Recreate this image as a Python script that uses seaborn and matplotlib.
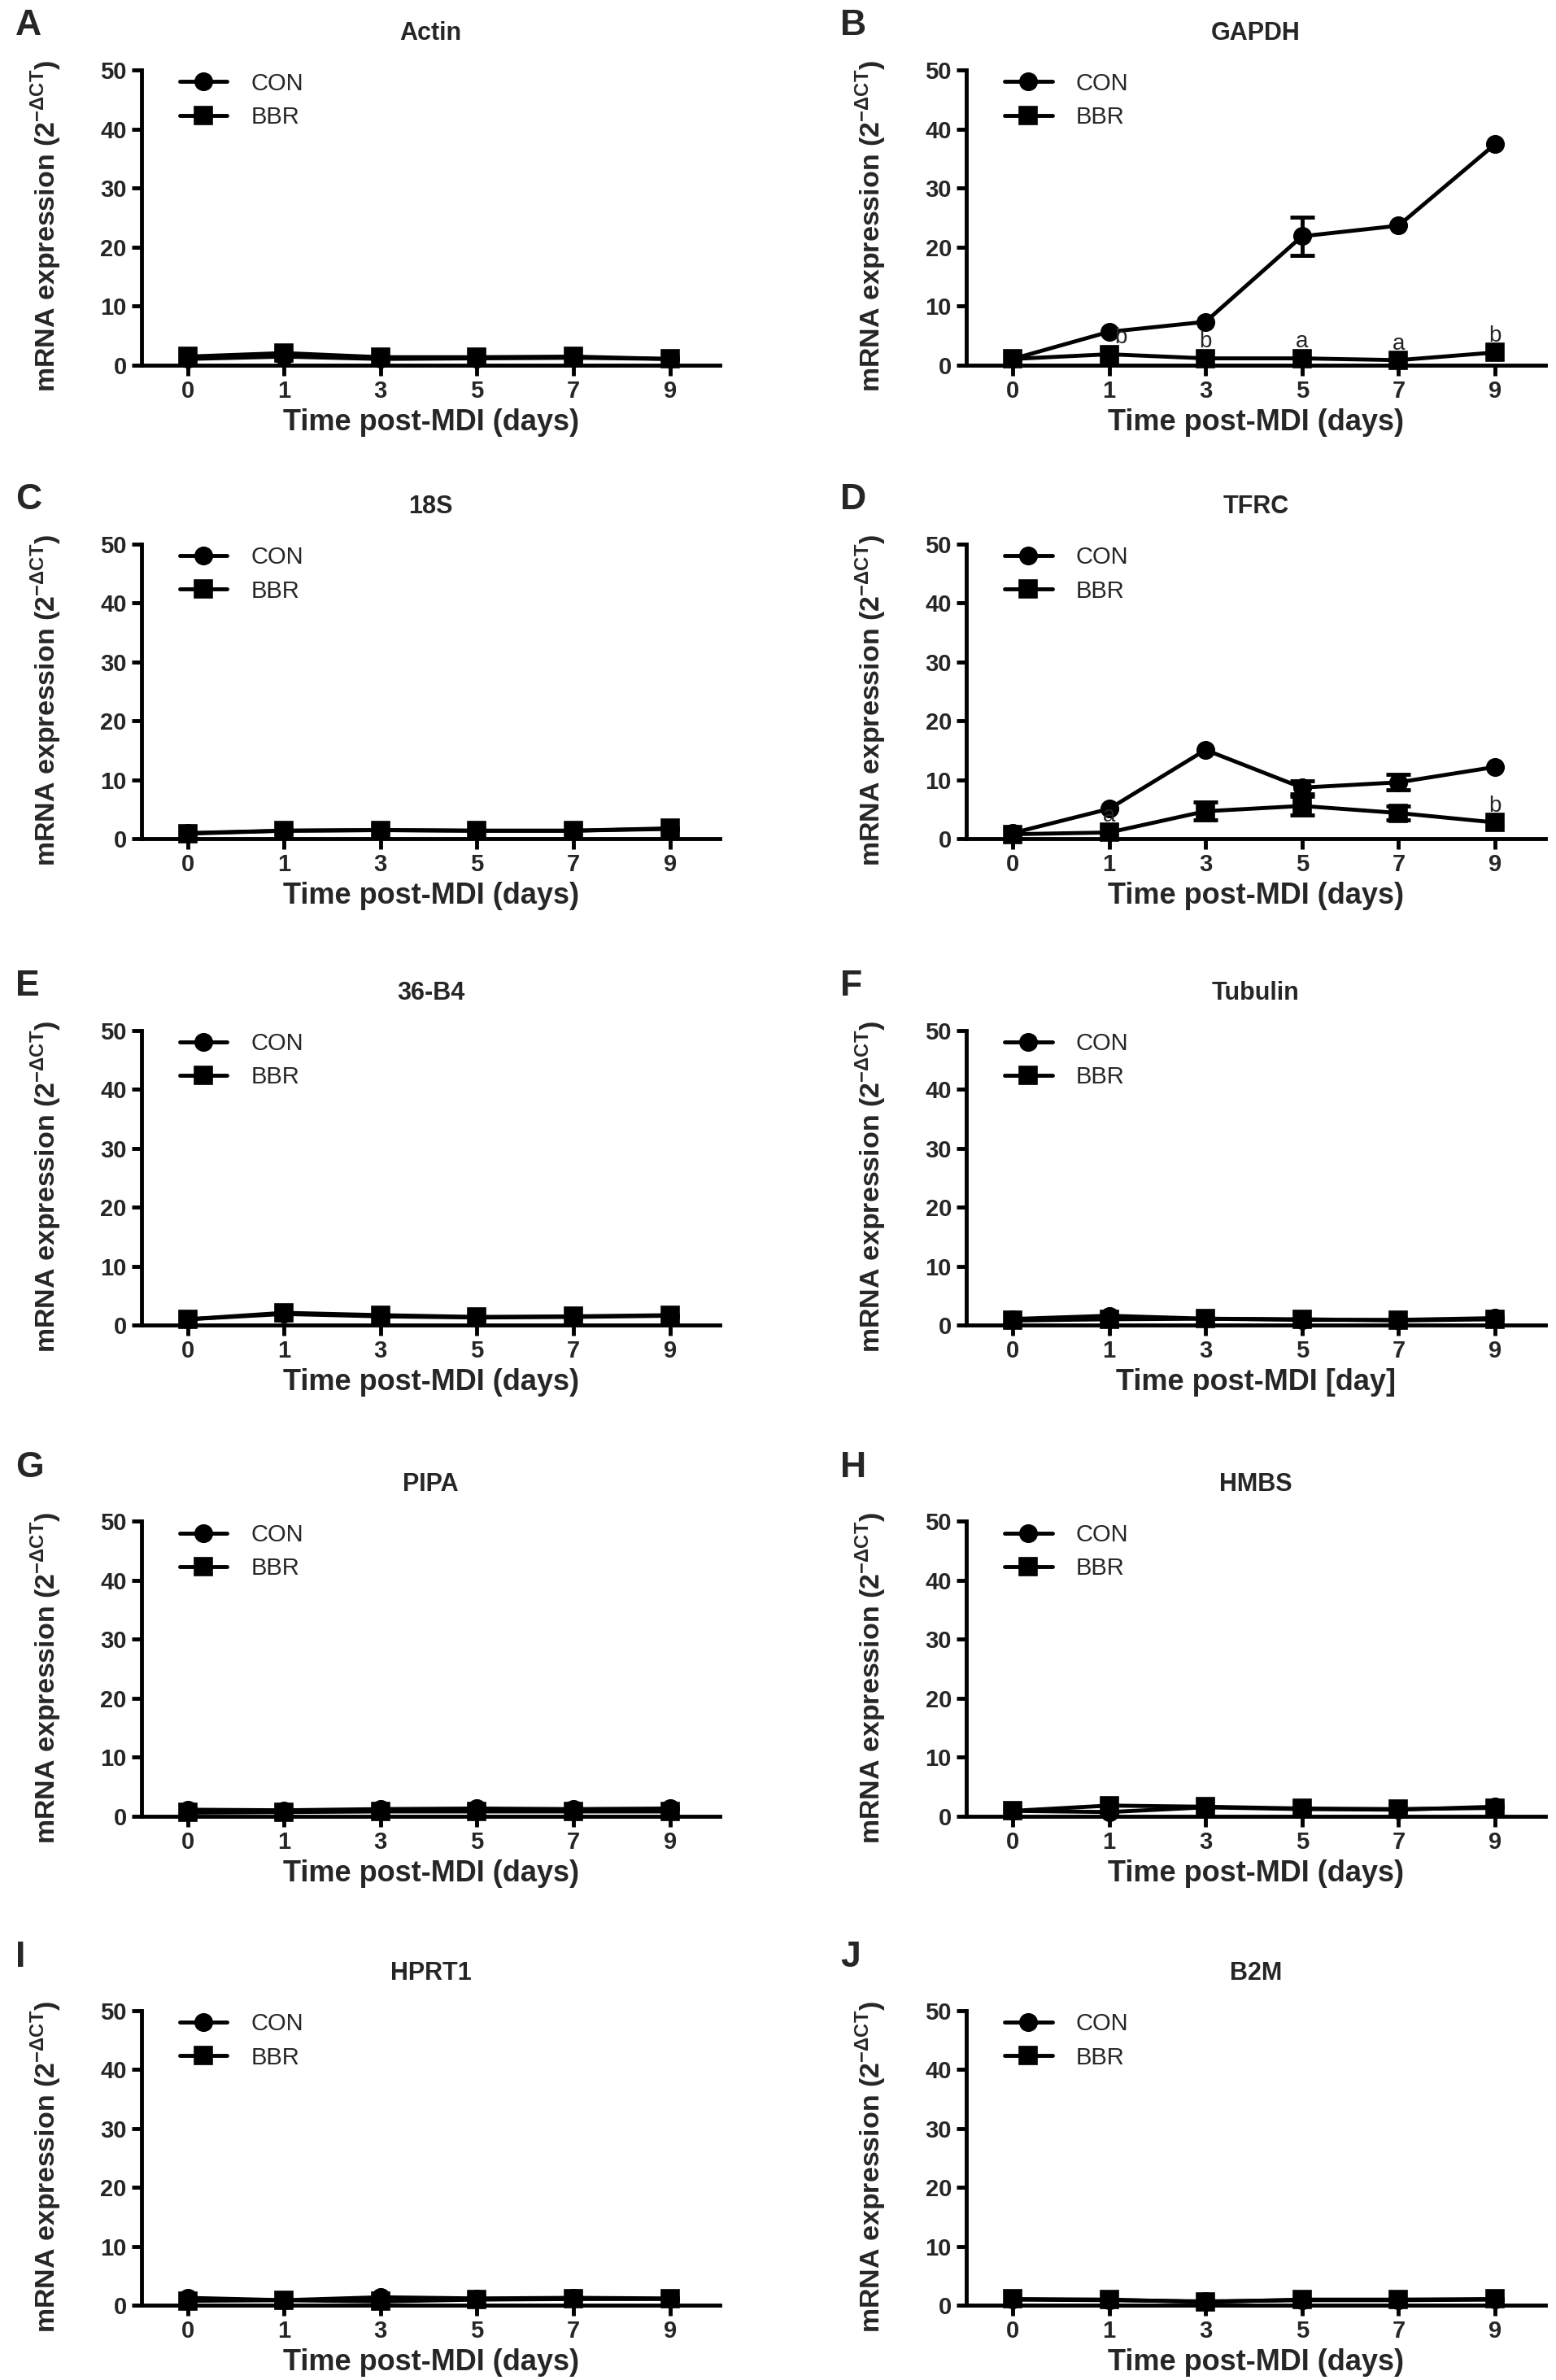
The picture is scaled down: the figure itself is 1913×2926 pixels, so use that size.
from matplotlib import pyplot as plt
import seaborn as sns
import pandas as pd

days = ["0", "1", "3", "5", "7", "9"]
groups = ["CON", "BBR"]
genes = ["Actin", "GAPDH", "18S", "TFRC", "36-B4", "Tubulin", "PIPA", "HMBS", "HPRT1", "B2M"]
panel_letters = ["A", "B", "C", "D", "E", "F", "G", "H", "I", "J"]

actin_con = [1.0, 1.4, 1.0, 1.1, 1.2, 1.0]
actin_bbr = [1.4, 2.0, 1.3, 1.3, 1.4, 1.0]
gapdh_con = [1.0, 5.6, 7.3, 21.8, 23.6, 37.4]
gapdh_bbr = [1.0, 1.8, 1.1, 1.1, 0.8, 2.1]
gapdh_con_sem = [0, 0, 0, 3.2, 0, 0]
gapdh_bbr_sem = [0, 0, 0, 0, 0, 0]
gapdh_letters = ["", "b", "b", "a", "a", "b"]
s18_con = [1.0, 1.4, 1.5, 1.4, 1.4, 1.7]
s18_bbr = [0.9, 1.4, 1.5, 1.4, 1.4, 1.8]
tfrc_con = [1.0, 5.1, 15.1, 8.7, 9.6, 12.2]
tfrc_bbr = [0.8, 1.1, 4.7, 5.6, 4.4, 2.8]
tfrc_con_sem = [0, 0, 0, 1.1, 1.3, 0]
tfrc_bbr_sem = [0, 0, 1.5, 1.6, 1.2, 0]
tfrc_letters = ["", "a", "", "", "", "b"]
b4_con = [1.0, 1.9, 1.5, 1.3, 1.4, 1.6]
b4_bbr = [1.0, 2.1, 1.7, 1.4, 1.5, 1.7]
tubulin_con = [1.05, 1.6, 1.1, 0.9, 0.9, 1.2]
tubulin_bbr = [0.8, 1.0, 1.1, 1.0, 0.8, 1.0]
pipa_con = [1.1, 1.0, 1.2, 1.3, 1.2, 1.3]
pipa_bbr = [0.6, 0.7, 0.8, 0.8, 0.8, 0.8]
hmbs_con = [0.9, 0.7, 1.5, 1.2, 1.1, 1.6]
hmbs_bbr = [0.9, 1.8, 1.6, 1.3, 1.2, 1.4]
hprt1_con = [1.3, 0.9, 1.4, 1.2, 1.3, 1.2]
hprt1_bbr = [0.8, 0.9, 0.7, 1.0, 1.1, 1.1]
b2m_con = [1.0, 0.9, 0.7, 0.9, 0.9, 1.0]
b2m_bbr = [1.1, 1.0, 0.6, 1.0, 1.0, 1.1]

xlabels = ["Time post-MDI (days)"] * 10
xlabels[5] = "Time post-MDI [day]"

zeros = [0] * 6
blank = [""] * 6
series = {
    "Actin": (actin_con, actin_bbr, zeros, zeros, blank),
    "GAPDH": (gapdh_con, gapdh_bbr, gapdh_con_sem, gapdh_bbr_sem, gapdh_letters),
    "18S": (s18_con, s18_bbr, zeros, zeros, blank),
    "TFRC": (tfrc_con, tfrc_bbr, tfrc_con_sem, tfrc_bbr_sem, tfrc_letters),
    "36-B4": (b4_con, b4_bbr, zeros, zeros, blank),
    "Tubulin": (tubulin_con, tubulin_bbr, zeros, zeros, blank),
    "PIPA": (pipa_con, pipa_bbr, zeros, zeros, blank),
    "HMBS": (hmbs_con, hmbs_bbr, zeros, zeros, blank),
    "HPRT1": (hprt1_con, hprt1_bbr, zeros, zeros, blank),
    "B2M": (b2m_con, b2m_bbr, zeros, zeros, blank),
}

sns.set_style("ticks")
plt.rcParams["font.family"] = ["Liberation Sans", "DejaVu Sans"]
plt.rcParams["mathtext.fontset"] = "custom"
plt.rcParams["mathtext.rm"] = "Liberation Sans"

LW = 3.5
fig = plt.figure(figsize=(19.13, 29.26), dpi=100)

lefts = [0.0908, 0.621]
bottoms = [0.8467, 0.6475, 0.4432, 0.2369, 0.0313]
letter_off = [0.0185, 0.0185, 0.0185, 0.0225, 0.0225]
W, H = 0.372, 0.1239

for i, gene in enumerate(genes):
    row, col = divmod(i, 2)
    ax = fig.add_axes([lefts[col], bottoms[row], W, H])
    con, bbr, con_sem, bbr_sem, letters = series[gene]

    df = pd.DataFrame({
        "day": days * 2,
        "value": con + bbr,
        "group": ["CON"] * 6 + ["BBR"] * 6,
    })

    sns.pointplot(data=df, x="day", y="value", hue="group", order=days, hue_order=groups,
                  palette=["black", "black"], markers=["o", "s"], linestyles=["-", "-"],
                  errorbar=None, markersize=14, linewidth=LW, ax=ax)

    for vals, sem in [(con, con_sem), (bbr, bbr_sem)]:
        idx = [k for k, s in enumerate(sem) if s > 0]
        if idx:
            ax.errorbar(idx, [vals[k] for k in idx], yerr=[sem[k] for k in idx], fmt="none",
                        ecolor="black", elinewidth=LW, capsize=11, capthick=LW, clip_on=False)

    for k, lab in enumerate(letters):
        if lab:
            dx = 0.12 if (gene == "GAPDH" and k == 1) else 0
            ax.text(k + dx, bbr[k] + 1.0, lab, ha="center", va="bottom", fontsize=20)

    for ln in ax.lines:
        ln.set_clip_on(False)

    ax.set_ylim(0, 50)
    ax.set_xlim(-0.48, 5.52)
    ax.set_yticks([0, 10, 20, 30, 40, 50])
    sns.despine(ax=ax)
    for sp in ["left", "bottom"]:
        ax.spines[sp].set_linewidth(LW)
        ax.spines[sp].set_color("black")
    ax.tick_params(axis="both", width=LW, length=9, color="black", pad=4)
    for t in ax.get_xticklabels() + ax.get_yticklabels():
        t.set_fontweight("bold")
        t.set_fontsize(21)

    ax.set_xlabel(xlabels[i], fontweight="bold", fontsize=26, labelpad=5)
    ax.set_ylabel(r"mRNA expression (2$^{\mathregular{-\Delta CT}}$)", fontweight="bold",
                  fontsize=24.5)
    ax.yaxis.set_label_coords(-0.135, 0.47)
    ax.set_title(gene, fontweight="bold", fontsize=22, pad=27)

    ax.legend(title=None, frameon=False, loc="upper left", bbox_to_anchor=(0.05, 1.025),
              fontsize=21, handlelength=2.0, handletextpad=1.0, labelspacing=0.45,
              borderaxespad=0)

    fig.text(lefts[col] - 0.081, bottoms[row] + H + letter_off[row], panel_letters[i],
             fontsize=32, fontweight="bold", ha="left", va="center")

fig.savefig("out.png", dpi=100)
